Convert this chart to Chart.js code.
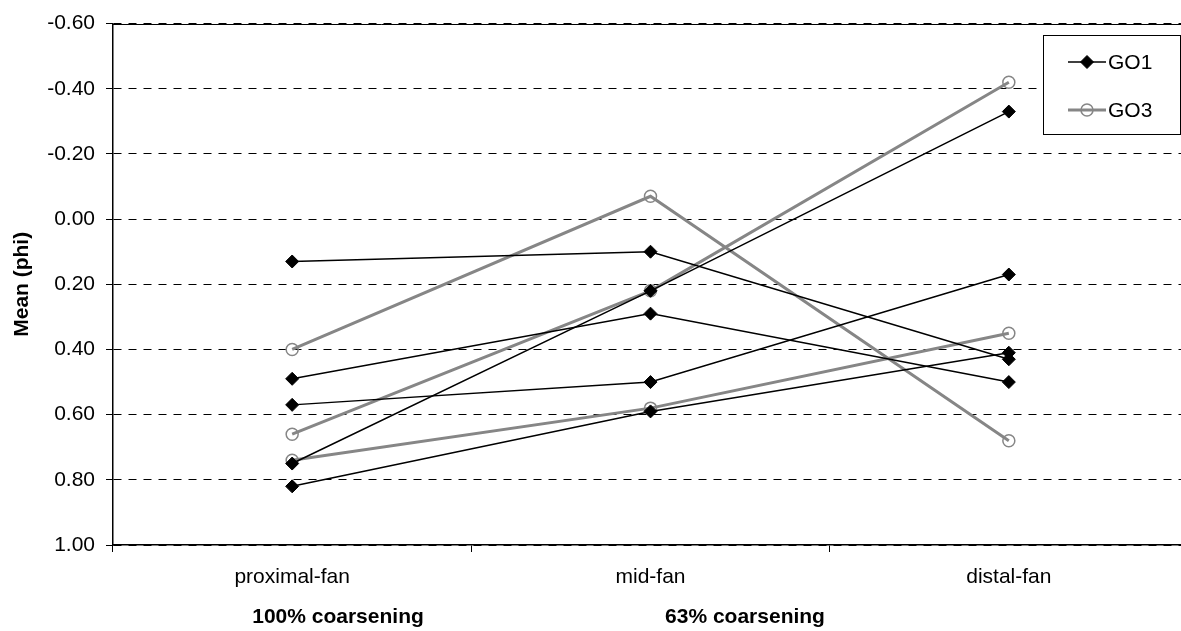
<!DOCTYPE html>
<html>
<head>
<meta charset="utf-8">
<title>Mean grain size by fan position</title>
<script src="https://cdn.jsdelivr.net/npm/chart.js"></script>
<style>
  html, body { margin: 0; padding: 0; background: #fff; overflow: hidden; }
  #wrap { width: 1200px; height: 631px; }
</style>
</head>
<body>
<div id="wrap"><canvas id="c" width="1200" height="631"></canvas></div>
<script>
// Fan positions along the x axis
const categories = ['proximal-fan', 'mid-fan', 'distal-fan'];

// Mean grain size (phi), one profile per array
const go1Profiles = [
  [0.13, 0.10, 0.43],
  [0.49, 0.29, 0.50],
  [0.57, 0.50, 0.17],
  [0.75, 0.22, -0.33],
  [0.82, 0.59, 0.41]
];
const go3Profiles = [
  [0.40, -0.07, 0.68],
  [0.66, 0.22, -0.42],
  [0.74, 0.58, 0.35]
];

const seriesNames = ['GO1', 'GO3'];
const yTickLabels = ['-0.60', '-0.40', '-0.20', '0.00', '0.20', '0.40', '0.60', '0.80', '1.00'];
const coarseningLabels = ['100% coarsening', '63% coarsening'];
const yTitle = 'Mean (phi)';

const FONT = "'Liberation Sans', Arial, Helvetica, sans-serif";
const BLACK = '#000000';
const GREY = '#868686';

const go1Style = {
  borderColor: BLACK, borderWidth: 1.5,
  pointStyle: 'rectRot', pointRadius: 6.5, pointHoverRadius: 6.5,
  pointBackgroundColor: BLACK, pointBorderColor: BLACK, pointBorderWidth: 1
};
const go3Style = {
  borderColor: GREY, borderWidth: 3,
  pointStyle: 'circle', pointRadius: 6, pointHoverRadius: 6,
  pointBackgroundColor: 'rgba(0,0,0,0)', pointBorderColor: GREY, pointBorderWidth: 1.5
};

const datasets = [];
go1Profiles.forEach(d => datasets.push(Object.assign({ label: seriesNames[0], data: d, tension: 0, fill: false }, go1Style)));
go3Profiles.forEach(d => datasets.push(Object.assign({ label: seriesNames[1], data: d, tension: 0, fill: false }, go3Style)));

// Solid frame line along the top of the plot area
const plotFrame = {
  id: 'plotFrame',
  afterDatasetsDraw(chart) {
    const { ctx, chartArea } = chart;
    ctx.save();
    ctx.strokeStyle = BLACK;
    ctx.lineWidth = 1;
    ctx.beginPath();
    ctx.moveTo(chartArea.left, Math.round(chartArea.top) + 0.5);
    ctx.lineTo(chartArea.right, Math.round(chartArea.top) + 0.5);
    ctx.stroke();
    ctx.restore();
  }
};

// Two bold captions under the category labels
const coarseningCaptions = {
  id: 'coarseningCaptions',
  afterDraw(chart) {
    const { ctx } = chart;
    const centers = [338, 745];
    ctx.save();
    ctx.fillStyle = BLACK;
    ctx.font = 'bold 21px ' + FONT;
    ctx.textAlign = 'center';
    ctx.textBaseline = 'middle';
    coarseningLabels.forEach((t, i) => ctx.fillText(t, centers[i], 617));
    ctx.restore();
  }
};

// Boxed key: short line with the series marker, then the name
const seriesKey = {
  id: 'seriesKey',
  afterDraw(chart) {
    const { ctx } = chart;
    const box = { x: 1043.5, y: 35.5, w: 137, h: 99 };
    ctx.save();
    ctx.fillStyle = '#ffffff';
    ctx.fillRect(box.x, box.y, box.w, box.h);
    ctx.strokeStyle = BLACK;
    ctx.lineWidth = 1;
    ctx.strokeRect(box.x, box.y, box.w, box.h);
    const rows = [
      { name: seriesNames[0], style: go1Style, y: 62 },
      { name: seriesNames[1], style: go3Style, y: 110 }
    ];
    rows.forEach(r => {
      ctx.strokeStyle = r.style.borderColor;
      ctx.lineWidth = r.style.borderWidth;
      ctx.beginPath();
      ctx.moveTo(1068, r.y);
      ctx.lineTo(1106, r.y);
      ctx.stroke();
      ctx.fillStyle = r.style.pointBackgroundColor;
      ctx.strokeStyle = r.style.pointBorderColor;
      ctx.lineWidth = r.style.pointBorderWidth;
      Chart.helpers.drawPoint(ctx, {
        pointStyle: r.style.pointStyle, rotation: 0,
        radius: r.style.pointRadius, borderWidth: r.style.pointBorderWidth
      }, 1087, r.y);
      ctx.fillStyle = BLACK;
      ctx.font = '21px ' + FONT;
      ctx.textAlign = 'left';
      ctx.textBaseline = 'middle';
      ctx.fillText(r.name, 1108, r.y + 1);
    });
    ctx.restore();
  }
};

new Chart(document.getElementById('c'), {
  type: 'line',
  data: { labels: categories, datasets },
  plugins: [plotFrame, coarseningCaptions, seriesKey],
  options: {
    responsive: false,
    animation: false,
    events: [],
    layout: { padding: { left: 0, top: 22, right: 12, bottom: 0 } },
    plugins: { legend: { display: false }, tooltip: { enabled: false } },
    scales: {
      x: {
        type: 'category',
        offset: true,
        grid: {
          offset: true, drawOnChartArea: false, drawTicks: true,
          tickLength: 7, tickColor: BLACK, tickWidth: 1
        },
        border: { display: true, color: BLACK, width: 1.5 },
        ticks: { color: BLACK, padding: 13, maxRotation: 0, font: { family: FONT, size: 21 } },
        afterFit(scale) { scale.height = 631 - 545; }
      },
      y: {
        reverse: true,
        min: -0.6,
        max: 1.0,
        ticks: {
          stepSize: 0.2,
          color: BLACK,
          padding: 11,
          font: { family: FONT, size: 21 },
          callback: v => yTickLabels.find(t => Math.abs(parseFloat(t) - v) < 1e-6) || ''
        },
        grid: {
          color: BLACK, lineWidth: 1,
          drawTicks: true, tickLength: 7, tickColor: BLACK, tickWidth: 1, tickBorderDash: []
        },
        border: { display: true, color: BLACK, width: 1.5, dash: [8, 7] },
        title: {
          display: true, text: yTitle, color: BLACK,
          font: { family: FONT, size: 21, weight: 'bold' },
          padding: { top: 10, bottom: 0 }
        },
        afterFit(scale) { scale.width = 113; }
      }
    }
  }
});
</script>
</body>
</html>
